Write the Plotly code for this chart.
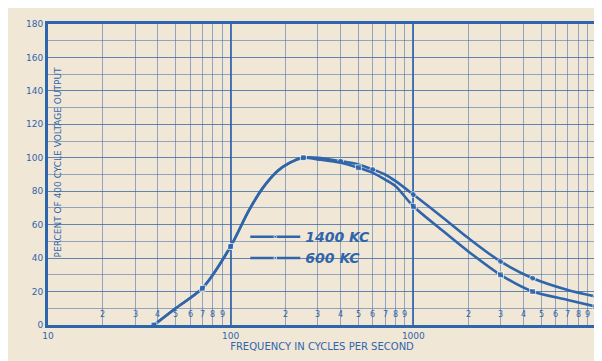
import plotly.graph_objects as go
import math

# Data
freq_1400 = [38, 50, 70, 100, 125, 150, 180, 210, 250, 300, 400, 500, 600, 700, 800, 1000, 1500, 2000, 3000, 4500, 7000, 10000]
pct_1400 = [0, 10, 22, 47, 68, 82, 92, 97, 100, 100, 98, 96, 93, 90, 86, 78, 63, 52, 38, 28, 21, 17]
mark_1400 = [1, 0, 1, 1, 0, 0, 0, 0, 1, 0, 1, 0, 1, 0, 0, 1, 0, 0, 1, 1, 0, 1]

freq_600 = [38, 50, 70, 100, 125, 150, 180, 210, 250, 300, 400, 500, 600, 700, 800, 1000, 1500, 2000, 3000, 4500, 7000, 10000]
pct_600 = [0, 10, 22, 47, 68, 82, 92, 97, 100, 99, 97, 94, 91, 87, 83, 71, 55, 44, 30, 20, 15, 11]
mark_600 = [1, 0, 1, 1, 0, 0, 0, 0, 1, 0, 0, 1, 0, 0, 0, 1, 0, 0, 1, 1, 0, 1]

series_names = ["1400 KC", "600 KC"]
y_ticks = [0, 20, 40, 60, 80, 100, 120, 140, 160, 180]
x_major = [10, 100, 1000, 10000]
x_minor_labels = [2, 3, 4, 5, 6, 7, 8, 9]

INK = "#2f65aa"
GRID = "rgba(52,98,160,0.5)"
GRID_MAJ = "rgba(47,101,170,0.85)"
PAPER = "#f1e7d7"

fig = go.Figure()
fig.add_trace(go.Scatter(
    x=freq_1400, y=pct_1400, name=series_names[0], mode="lines+markers",
    line=dict(color=INK, width=2.6, shape="spline", smoothing=0.8),
    marker=dict(symbol="circle", size=[6 if m else 0 for m in mark_1400], color=INK),
))
fig.add_trace(go.Scatter(
    x=freq_600, y=pct_600, name=series_names[1], mode="lines+markers",
    line=dict(color=INK, width=2.6, shape="spline", smoothing=0.8),
    marker=dict(symbol="square", size=[6 if m else 0 for m in mark_600], color=INK),
))

# minor decade digits drawn inside the plot above the axis
for dec in [10, 100, 1000]:
    for d in x_minor_labels:
        fig.add_annotation(x=math.log10(dec * d), y=6, xref="x", yref="y",
                           text=str(d), showarrow=False,
                           font=dict(size=8, color=INK, family="DejaVu Sans"))

fig.add_annotation(x=0, y=0.54, xref="paper", yref="paper", xanchor="left",
                   xshift=3,
                   text="PERCENT OF 400 CYCLE VOLTAGE OUTPUT", textangle=-90,
                   showarrow=False, font=dict(size=9, color=INK, family="DejaVu Sans"))

fig.update_layout(
    width=602, height=361,
    margin=dict(l=40, r=14, t=16, b=44),
    paper_bgcolor=PAPER, plot_bgcolor=PAPER,
    showlegend=True,
    legend=dict(x=0.36, y=0.345, xanchor="left", yanchor="top",
                bgcolor="rgba(0,0,0,0)", tracegroupgap=0, itemwidth=50,
                font=dict(size=14, color=INK, family="DejaVu Sans, Arial Black",
                          weight="bold", style="italic")),
    font=dict(family="DejaVu Sans", color=INK, size=9),
)
fig.update_xaxes(
    type="log", range=[1, 4],
    tickvals=x_major, ticktext=[str(v) for v in x_major],
    tickfont=dict(size=9, color=INK),
    showgrid=True, gridcolor=GRID_MAJ, gridwidth=1.6,
    minor=dict(dtick="D1", showgrid=True, gridcolor=GRID, gridwidth=1),
    showline=True, linecolor=INK, linewidth=3, mirror=True,
    ticks="", zeroline=False,
    title=dict(text="FREQUENCY IN CYCLES PER SECOND", standoff=4,
               font=dict(size=10, color=INK)),
)
fig.update_yaxes(
    range=[0, 180], tickvals=y_ticks,
    tickfont=dict(size=9, color=INK),
    showgrid=True, gridcolor=GRID, gridwidth=1.4,
    minor=dict(dtick=10, showgrid=True, gridcolor=GRID, gridwidth=1),
    showline=True, linecolor=INK, linewidth=3, mirror=True,
    ticks="", zeroline=False,
)

fig.write_html("out.html")
